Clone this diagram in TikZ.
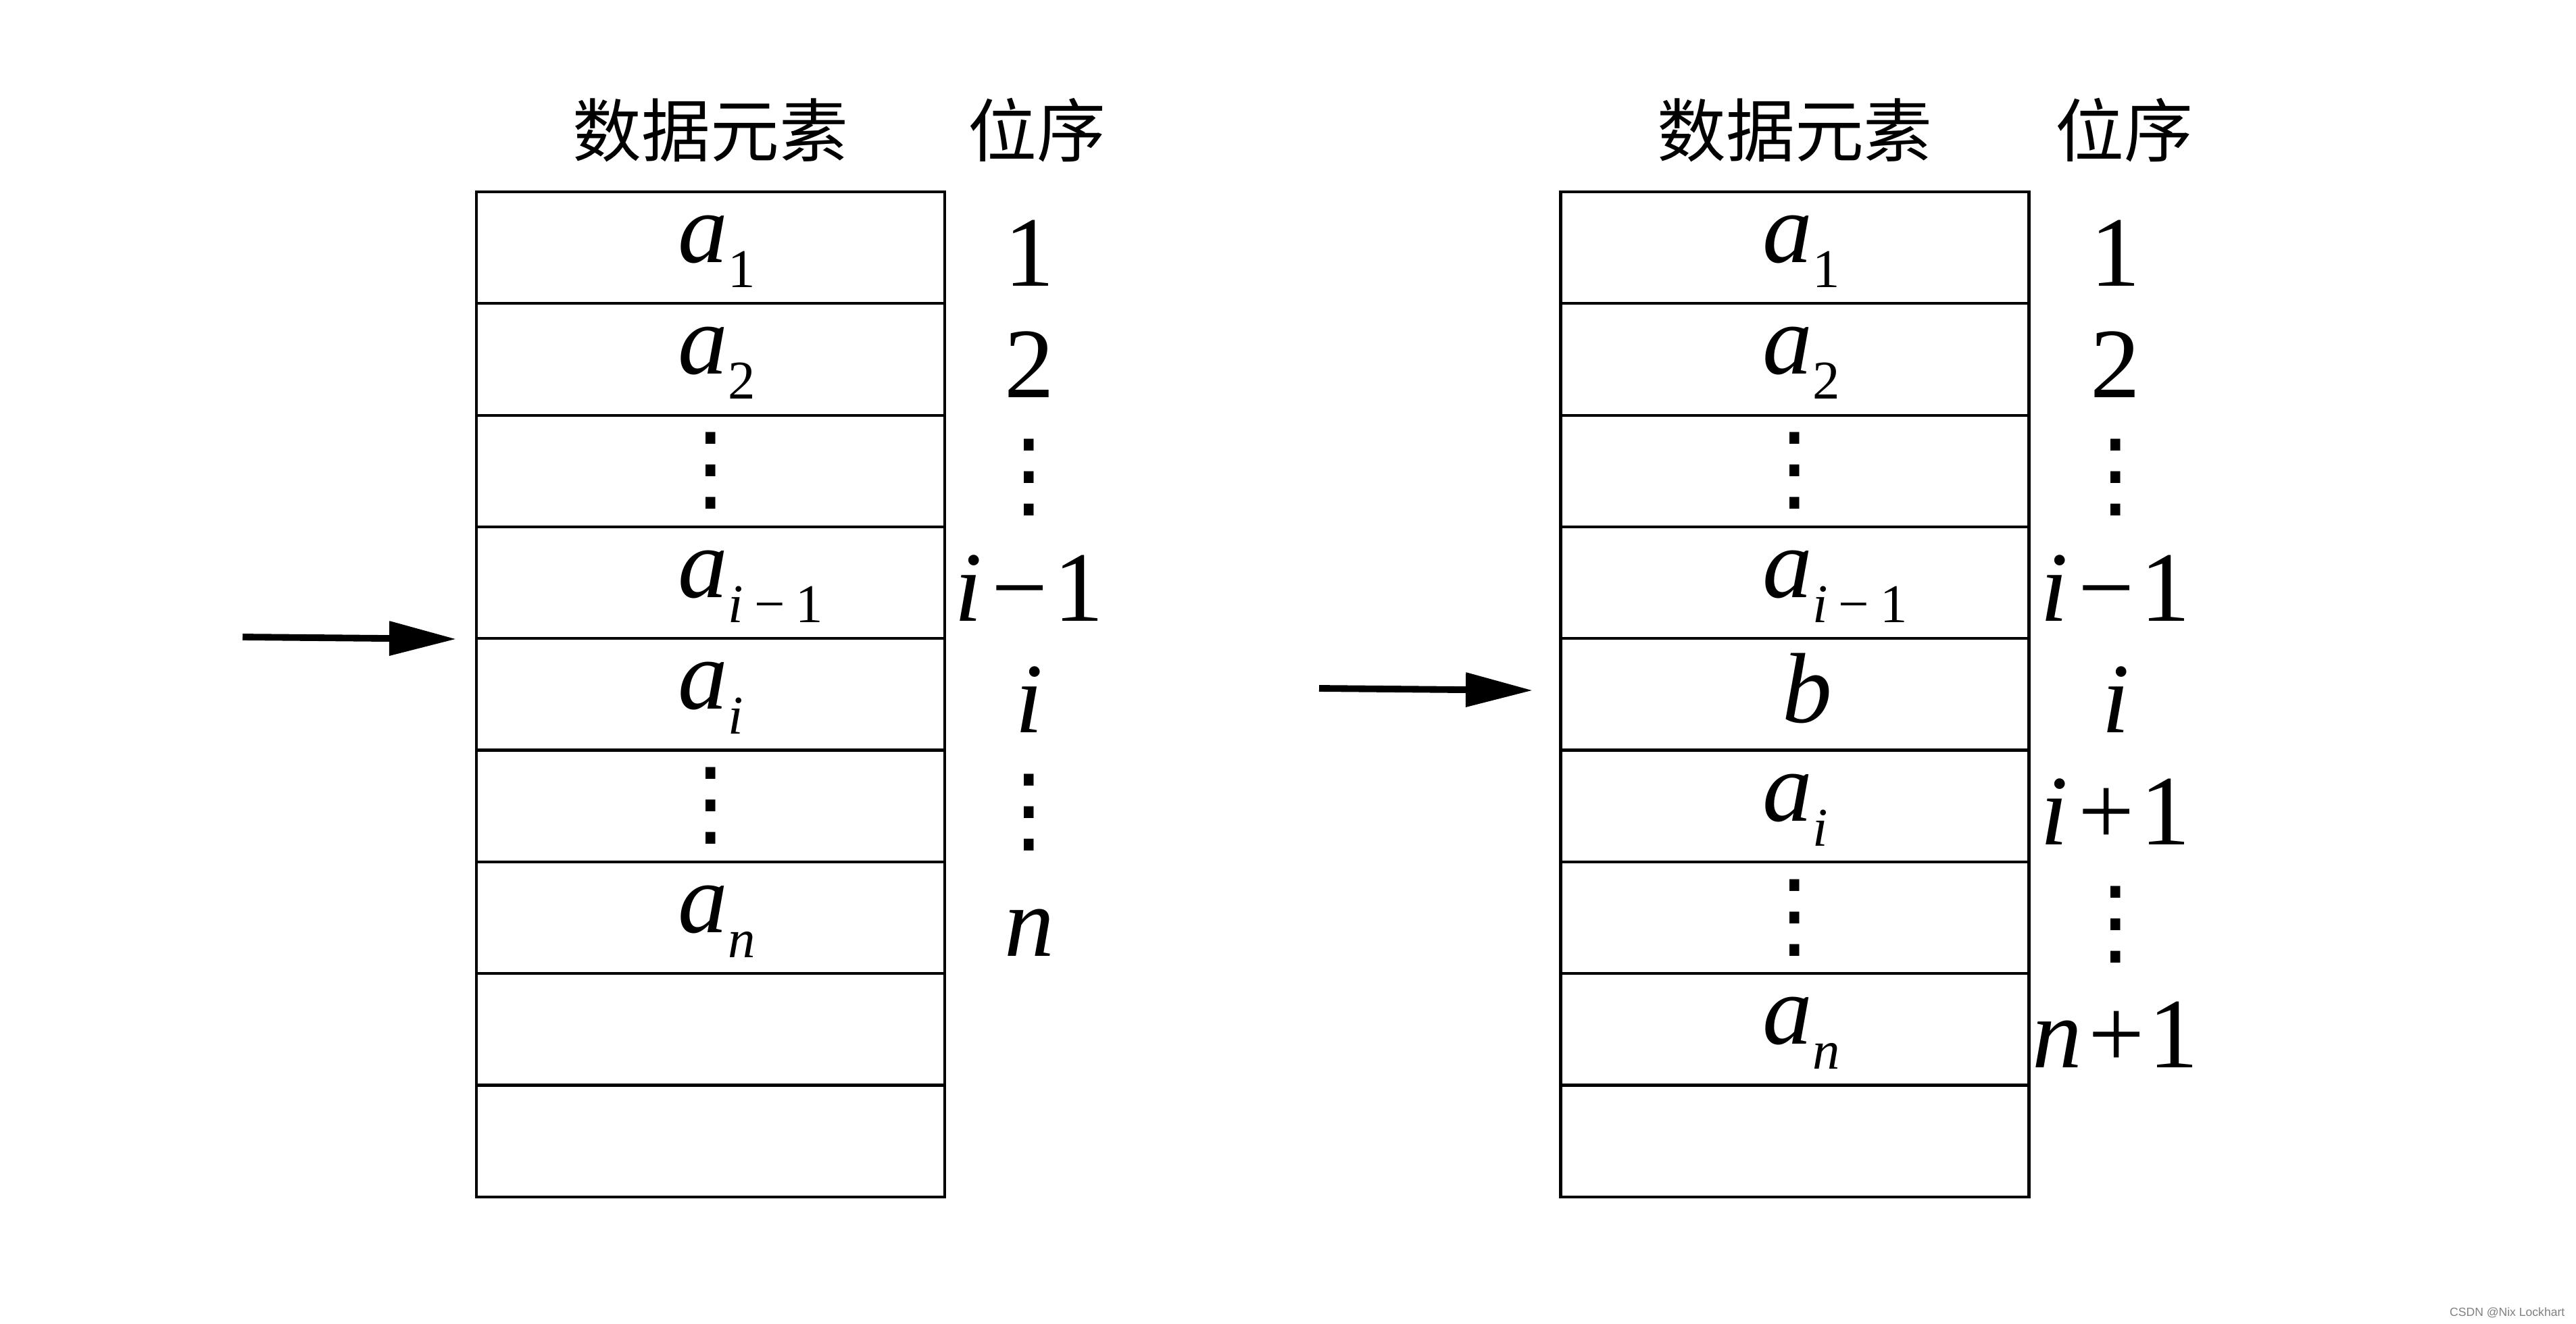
\documentclass[tikz,border=0pt]{standalone}
\usepackage{fontspec}
\setmainfont{Liberation Serif}
\newfontfamily\cjk{Noto Sans CJK SC}
\newfontfamily\wmark{Liberation Sans}
\newfontfamily\symf{DejaVu Sans}
\usetikzlibrary{arrows.meta}
\newcommand{\elem}[1]{\textit{a}\raisebox{-0.37cm}{\fontsize{23}{23}\selectfont #1}}

\begin{document}
\begin{tikzpicture}[
  cell/.style={draw,line width=1.2pt,minimum width=6.93cm,minimum height=1.653cm,inner sep=0pt,outer sep=0pt},
  elemtxt/.style={font=\fontsize{42}{42}\selectfont,inner sep=0pt,anchor=base west},
  postxt/.style={font=\fontsize{42}{42}\selectfont,inner sep=0pt,anchor=base},
  dotstxt/.style={font=\symf\fontsize{40}{40}\selectfont,inner sep=0pt},
  head/.style={font=\cjk\fontsize{29}{29}\selectfont,inner sep=0pt},
  ptr/.style={-{Triangle[length=9.9mm,width=4.9mm]},line width=2.8pt}]
\useasboundingbox (0,0) rectangle (38.12,-19.59);
% the two tables, nine cells each
\foreach \t/\x in {L/10.515,R/26.56}
  \foreach \i in {1,...,9}
    \node[cell] (\t\i) at (\x,{-2.84-1.653*(\i-0.5)}) {};
\node[head] (lh1) at ([yshift=9.1mm]L1.north) {数据元素};
\node[head] (lh2) at (15.34,-1.93) {位序};
\node[head] (rh1) at ([yshift=9.1mm]R1.north) {数据元素};
\node[head] (rh2) at (31.43,-1.93) {位序};
% before insertion
\foreach \r/\s in {1/1,2/2,4/{\textit{i}\kern.2em−\kern.2em1},5/\textit{i},7/\textit{n}}
  \node[elemtxt] (la\r) at ([xshift=2.98cm,yshift=-2.2mm]L\r.west) {\elem{\s}};
\foreach \r/\s in {1/1,2/2,4/{\textit{i}\kern.1em−\kern.06em1},5/\textit{i},7/\textit{n}}
  \node[postxt] (lp\r) at ([xshift=1.25cm,yshift=-5.7mm]L\r.east) {\s};
\foreach \r in {3,6}{
  \node[dotstxt] (la\r) at (L\r) {⋮};
  \node[dotstxt] (lp\r) at ([xshift=1.25cm,yshift=-1mm]L\r.east) {⋮};
}
% after insertion of b
\foreach \r/\s in {1/1,2/2,4/{\textit{i}\kern.2em−\kern.2em1},6/\textit{i},8/\textit{n}}
  \node[elemtxt] (ra\r) at ([xshift=2.98cm,yshift=-2.2mm]R\r.west) {\elem{\s}};
\node[postxt] (ra5) at ([xshift=1.8mm,yshift=-4.2mm]R5.center) {\textit{b}};
\foreach \r/\s in {1/1,2/2,4/{\textit{i}\kern.1em−\kern.06em1},5/\textit{i},6/{\textit{i}\kern.1em+\kern.06em1},8/{\textit{n}\kern.06em+\kern.04em1}}
  \node[postxt] (rp\r) at ([xshift=1.28cm,yshift=-5.7mm]R\r.east) {\s};
\foreach \r in {3,7}{
  \node[dotstxt] (ra\r) at (R\r) {⋮};
  \node[dotstxt] (rp\r) at ([xshift=1.28cm,yshift=-1mm]R\r.east) {⋮};
}
% insertion pointers
\coordinate (s1) at (3.59,-9.43);
\coordinate (t1) at (6.75,-9.46);
\coordinate (s2) at (19.52,-10.19);
\coordinate (t2) at (22.68,-10.22);
\draw[ptr] (s1) -- (t1);
\draw[ptr] (s2) -- (t2);
\node[font=\wmark\fontsize{5}{5}\selectfont,text=gray,anchor=east,inner sep=0pt] (mark) at (37.96,-19.43) {CSDN @Nix Lockhart};
\end{tikzpicture}
\end{document}
